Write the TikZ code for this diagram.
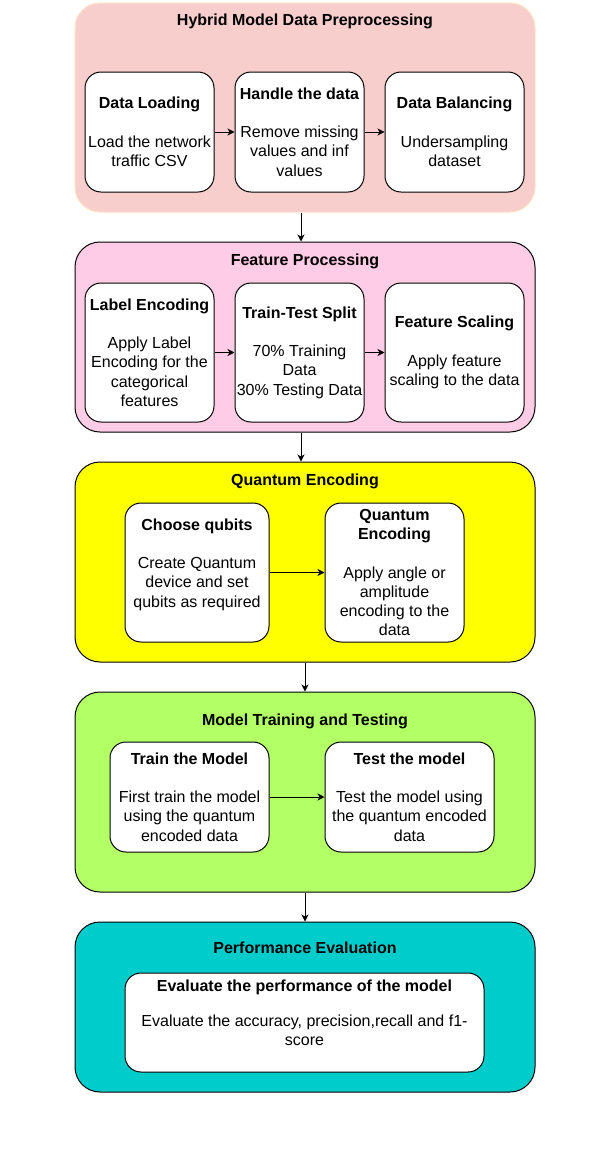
\documentclass[tikz,border=0pt]{standalone}
\usepackage{fontspec}
\setmainfont{Liberation Sans}
\usetikzlibrary{arrows.meta}
\definecolor{cpink}{HTML}{F8CECC}
\definecolor{cpinkline}{HTML}{FBE3C4}
\definecolor{cmag}{HTML}{FFCCE6}
\definecolor{cyel}{HTML}{FFFF00}
\definecolor{cgreen}{HTML}{B3FF66}
\definecolor{cteal}{HTML}{00CCCC}
\begin{document}
\begin{tikzpicture}[x=1pt,y=-1pt,
  every node/.style={font=\fontsize{16}{19.2}\selectfont, inner sep=0pt, align=center},
  container/.style={draw=black, line width=1pt, rounded corners=25pt, minimum width=460pt},
  stepbox/.style={draw=black, fill=white, line width=1pt, rounded corners=16pt},
  ttl/.style={font=\fontsize{16}{19.2}\selectfont\bfseries},
  arr/.style={-{Stealth[length=7pt,width=7pt,inset=2pt]}, line width=1pt, draw=black}]
\useasboundingbox (0,0) rectangle (606,1154);
% containers
\node[container, fill=cpink, draw=cpinkline, minimum height=209pt] (c1) at (305,107.5) {};
\node[container, fill=cmag, minimum height=190pt] (c2) at (305,337) {};
\node[container, fill=cyel, minimum height=200pt] (c3) at (305,562) {};
\node[container, fill=cgreen, minimum height=200pt] (c4) at (305,792) {};
\node[container, fill=cteal, minimum height=170pt] (c5) at (305,1007) {};
% container titles
\node[ttl] (t1) at (305,21) {Hybrid Model Data Preprocessing};
\node[ttl] (t2) at (305,261) {Feature Processing};
\node[ttl] (t3) at (305,481) {Quantum Encoding};
\node[ttl] (t4) at (305,721) {Model Training and Testing};
\node[ttl] (t5) at (305,948) {Performance Evaluation};
% row 1
\node[stepbox, minimum width=129pt, minimum height=120pt] (dl) at (149.5,132)
  {\textbf{Data Loading}\\[19.2pt]Load the network\\traffic CSV};
\node[stepbox, minimum width=129pt, minimum height=120pt] (hd) at (299.5,132)
  {\textbf{Handle the data}\\[19.2pt]Remove missing\\values and inf\\values};
\node[stepbox, minimum width=139pt, minimum height=120pt] (db) at (454.5,132)
  {\textbf{Data Balancing}\\[19.2pt]Undersampling\\dataset};
% row 2
\node[stepbox, minimum width=129pt, minimum height=139pt] (le) at (149.5,352.5)
  {\textbf{Label Encoding}\\[19.2pt]Apply Label\\Encoding for the\\categorical\\features};
\node[stepbox, minimum width=129pt, minimum height=139pt] (tt) at (299.5,352.5)
  {\textbf{Train-Test Split}\\[19.2pt]70\% Training\\Data\\30\% Testing Data};
\node[stepbox, minimum width=139pt, minimum height=139pt] (fs) at (454.5,352.5)
  {\textbf{Feature Scaling}\\[19.2pt]Apply feature\\scaling to the data};
% row 3
\node[stepbox, minimum width=144pt, minimum height=139pt] (cq) at (197,572.5)
  {\textbf{Choose qubits}\\[19.2pt]Create Quantum\\device and set\\qubits as required\\\mbox{}};
\node[stepbox, minimum width=139pt, minimum height=139pt] (qe) at (394.5,572.5)
  {\textbf{Quantum}\\\textbf{Encoding}\\[19.2pt]Apply angle or\\amplitude\\encoding to the\\data};
% row 4
\node[stepbox, minimum width=159pt, minimum height=110pt] (tm) at (189.5,797)
  {\textbf{Train the Model}\\[19.2pt]First train the model\\using the quantum\\encoded data};
\node[stepbox, minimum width=169pt, minimum height=110pt] (ts) at (409.5,797)
  {\textbf{Test the model}\\[19.2pt]Test the model using\\the quantum encoded\\data};
% row 5
\node[stepbox, minimum width=359pt, minimum height=99pt] (ev) at (304.5,1022.5) {};
\node[ttl] (evt) at (304.5,987) {Evaluate the performance of the model};
\node (evb) at (304.5,1030) {Evaluate the accuracy, precision,recall and f1-\\score};
% horizontal arrows
\draw[arr] (dl) -- (hd);
\draw[arr] (hd) -- (db);
\draw[arr] (le) -- (tt);
\draw[arr] (tt) -- (fs);
\draw[arr] (cq) -- (qe);
\draw[arr] (tm) -- (ts);
% vertical arrows
\coordinate (xa) at (301,0);
\coordinate (xb) at (305,0);
\draw[arr] (c1.south -| xa) -- (c2.north -| xa);
\draw[arr] (c2.south -| xa) -- (c3.north -| xa);
\draw[arr] (c3.south -| xb) -- (c4.north -| xb);
\draw[arr] (c4.south -| xb) -- (c5.north -| xb);
\end{tikzpicture}
\end{document}
